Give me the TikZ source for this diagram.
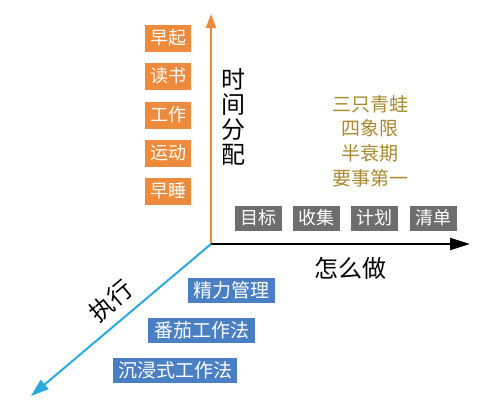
\documentclass[tikz,border=0pt]{standalone}
\usepackage{fontspec}
\setmainfont{Noto Sans CJK SC}
\usetikzlibrary{arrows.meta}
\definecolor{orangec}{HTML}{EE8A3C}
\definecolor{grayc}{HTML}{6E6E6E}
\definecolor{bluec}{HTML}{4A7FC4}
\definecolor{axisblue}{HTML}{2BA8DE}
\definecolor{goldc}{HTML}{A8892E}
\begin{document}
\begin{tikzpicture}[x=1pt,y=-1pt,
  obox/.style={fill=orangec,text=white,minimum width=46pt,minimum height=27pt,inner sep=0pt,font=\fontsize{18}{18}\selectfont},
  gbox/.style={fill=grayc,text=white,minimum width=47pt,minimum height=25pt,inner sep=0pt,font=\fontsize{18}{18}\selectfont},
  bbox/.style={fill=bluec,text=white,minimum height=25pt,inner sep=0pt,font=\fontsize{19}{19}\selectfont},
  goldtxt/.style={text=goldc,inner sep=0pt,font=\fontsize{19}{19}\selectfont},
  axlabel/.style={inner sep=0pt,font=\fontsize{24}{24}\selectfont}]
\useasboundingbox (0,0) rectangle (480,408);
\coordinate (O) at (211,244);
\coordinate (Ytip) at (211,14);
\coordinate (Xtip) at (470,244);
\coordinate (Ztip) at (31,396);
\draw[orangec,line width=2pt,-{Triangle[length=14pt,width=10pt]}] (O) -- (Ytip);
\draw[black,line width=2.3pt,-{Triangle[length=20pt,width=12pt]}] (O) -- (Xtip);
\draw[axisblue,line width=2pt,-{Triangle[length=18pt,width=12pt]}] (O) -- (Ztip);
% orange boxes
\node[obox] (o1) at (168,38) {早起};
\node[obox] (o2) at (168,76) {读书};
\node[obox] (o3) at (168,115) {工作};
\node[obox] (o4) at (168,153) {运动};
\node[obox] (o5) at (168,191) {早睡};
% vertical label
\node[axlabel,align=center,font=\fontsize{24}{25}\selectfont] (ylab) at (233,117) {时\\间\\分\\配};
% gold texts
\node[goldtxt] (g1) at (370,104) {三只青蛙};
\node[goldtxt] (g2) at (370,128) {四象限};
\node[goldtxt] (g3) at (370,153) {半衰期};
\node[goldtxt] (g4) at (370,178) {要事第一};
% gray boxes
\node[gbox] (b1) at (258,218) {目标};
\node[gbox] (b2) at (316,218) {收集};
\node[gbox] (b3) at (374,218) {计划};
\node[gbox] (b4) at (433,218) {清单};
% x label
\node[axlabel] (xlab) at (350,268) {怎么做};
% blue boxes
\node[bbox,minimum width=87pt] (c1) at (231.5,290.5) {精力管理};
\node[bbox,minimum width=107pt] (c2) at (201.5,330.5) {番茄工作法};
\node[bbox,minimum width=124pt] (c3) at (175,370.5) {沉浸式工作法};
% z label
\node[axlabel,rotate=40] (zlab) at (111,301) {执行};
\end{tikzpicture}
\end{document}
